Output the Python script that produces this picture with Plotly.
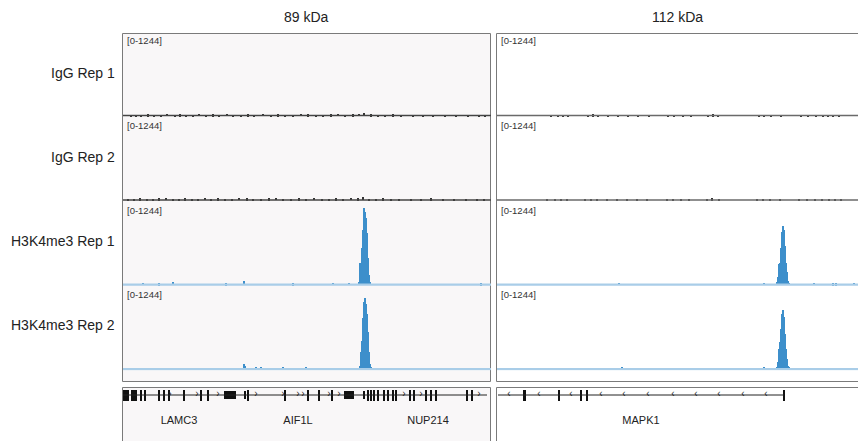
import plotly.graph_objects as go

W, H = 858, 441

# ---------------- data ----------------
column_titles = ["89 kDa", "112 kDa"]
track_names = ["IgG Rep 1", "IgG Rep 2", "H3K4me3 Rep 1", "H3K4me3 Rep 2"]
scale_label = "[0-1244]"
y_max = 1244
region_len = [368, 361]   # bins shown per region

# IgG Rep 1
igg1_left_bins = [8, 13, 18, 25, 31, 38, 44, 52, 57, 63, 70, 76, 83, 90, 96, 104, 110, 118, 125, 131, 140, 148,
                  155, 162, 170, 178, 185, 193, 200, 208, 215, 222, 230, 236, 241, 248, 255, 262, 270, 278, 290,
                  300, 310, 322, 333, 345, 356, 362]
igg1_left_vals = [15, 20, 15, 25, 20, 15, 30, 20, 25, 15, 20, 30, 15, 25, 20, 30, 15, 20, 25, 15, 30, 20,
                  25, 15, 20, 30, 25, 15, 20, 25, 30, 20, 25, 30, 50, 25, 20, 15, 25, 20, 15,
                  20, 15, 20, 15, 20, 15, 20]
igg1_right_bins = [54, 61, 66, 71, 91, 96, 101, 111, 121, 131, 141, 152, 171, 177, 186, 194, 211, 216, 221,
                   262, 267, 274, 284, 304, 311, 319, 326, 331, 336, 342]
igg1_right_vals = [15, 20, 15, 15, 20, 25, 15, 15, 20, 15, 15, 20, 15, 20, 15, 15, 20, 25, 15,
                   15, 20, 15, 15, 15, 20, 15, 15, 20, 15, 15]
# IgG Rep 2
igg2_left_bins = [5, 11, 17, 24, 30, 36, 43, 50, 56, 62, 69, 75, 82, 88, 95, 102, 109, 116, 124, 130, 138, 146,
                  153, 160, 168, 176, 183, 191, 199, 206, 213, 220, 228, 235, 240, 246, 253, 260, 268, 276, 288,
                  298, 308, 320, 331, 343, 354, 361]
igg2_left_vals = [20, 15, 25, 20, 15, 25, 30, 20, 15, 25, 20, 15, 30, 20, 25, 15, 20, 30, 25, 20, 15, 25,
                  30, 20, 15, 25, 20, 30, 15, 20, 25, 15, 30, 25, 40, 20, 15, 25, 20, 15, 20,
                  15, 25, 15, 20, 15, 20, 15]
igg2_right_bins = [50, 58, 64, 70, 88, 94, 100, 110, 120, 130, 140, 150, 170, 176, 184, 192, 210, 215, 222,
                   260, 266, 273, 283, 302, 310, 318, 325, 332, 338, 344]
igg2_right_vals = [15, 15, 20, 15, 15, 20, 15, 20, 15, 15, 20, 15, 15, 20, 15, 20, 15, 25, 15,
                   15, 20, 15, 20, 15, 15, 20, 15, 15, 20, 15]
# H3K4me3 Rep 1
k4me3_1_left_bins = [20, 36, 50, 103, 121, 170, 210, 226,
                     236, 237, 238, 239, 240, 241, 242, 243, 244, 245, 246, 247, 358]
k4me3_1_left_vals = [30, 25, 40, 25, 60, 25, 30, 30,
                     40, 330, 330, 560, 830, 1147, 1100, 1005, 780, 405, 150, 50, 25]
k4me3_1_right_bins = [122, 267, 280, 281, 282, 283, 284, 285, 286, 287, 288, 289, 290, 291, 292,
                      317, 336, 339, 357]
k4me3_1_right_vals = [30, 30, 40, 120, 315, 330, 555, 800, 890, 820, 585, 330, 200, 60, 30,
                      30, 25, 25, 30]
# H3K4me3 Rep 2
k4me3_2_left_bins = [121, 122, 133, 138, 160, 183,
                     237, 238, 239, 240, 241, 242, 243, 244, 245, 246, 247, 248, 300]
k4me3_2_left_vals = [70, 50, 30, 25, 25, 25,
                     40, 260, 420, 760, 1000, 1065, 980, 820, 560, 250, 80, 30, 20]
k4me3_2_right_bins = [125, 267, 280, 281, 282, 283, 284, 285, 286, 287, 288, 289, 290, 291, 292, 330]
k4me3_2_right_vals = [25, 25, 30, 100, 300, 400, 600, 820, 885, 780, 520, 300, 150, 50, 25, 20]

signals = [
    [(igg1_left_bins, igg1_left_vals), (igg1_right_bins, igg1_right_vals)],
    [(igg2_left_bins, igg2_left_vals), (igg2_right_bins, igg2_right_vals)],
    [(k4me3_1_left_bins, k4me3_1_left_vals), (k4me3_1_right_bins, k4me3_1_right_vals)],
    [(k4me3_2_left_bins, k4me3_2_left_vals), (k4me3_2_right_bins, k4me3_2_right_vals)],
]

# gene annotation (bin coordinates)
gene_names = ["LAMC3", "AIF1L", "NUP214", "MAPK1"]
gene_label_bins = [56, 175, 305, 144]
gene_label_region = [0, 0, 0, 1]
gene_line_left = [0, 364]
gene_line_right = [1, 287]
exons_left_start = [0.7, 2.2, 3.7, 5.2, 8.7, 10.7, 12.7, 17.7, 21.7, 35.7, 40.7, 45.7, 60.7, 77.7, 84.7, 101,
                    121.5, 124.2, 161.7, 184.7, 195.7, 208.7, 221,
                    240.5, 244.7, 247.7, 250.7, 254.7, 260.7, 264.7, 269.7, 272.7, 286.7, 290.7,
                    302.7, 307.7, 312.7, 343, 347.5]
exons_left_end = [1.5, 3, 4.5, 6, 9.5, 11.5, 13.5, 18.5, 22.5, 36.5, 41.5, 46.5, 61.5, 78.5, 85.5, 113,
                  122.5, 125.3, 162.5, 185.5, 196.5, 209.5, 231,
                  241.5, 245.5, 248.5, 251.5, 255.5, 261.5, 265.5, 270.5, 273.5, 287.5, 291.5,
                  303.5, 308.5, 313.5, 345, 350]
exons_left_tall = [1, 1, 1, 1, 1, 1, 1, 1, 1, 1, 1, 1, 1, 1, 1, 0,
                   0, 1, 1, 1, 1, 1, 0,
                   0, 1, 1, 1, 1, 1, 1, 1, 1, 1, 1,
                   1, 1, 1, 1, 1]
exons_right_start = [26, 61.6, 83.6, 89.6, 286.6]
exons_right_end = [28.5, 62.6, 84.6, 90.6, 287.6]
exons_right_tall = [1, 1, 1, 1, 1]
arrows_left = [47, 74, 95, 133, 160, 175, 180, 206, 216, 281, 298, 356]
arrows_right = [12, 42, 74, 104, 127, 151, 176, 199, 222, 246, 269]

# ---------------- layout geometry ----------------
col_x = [(122, 490), (496, 858)]
baselines = [115.5, 200, 284.5, 369]
track_h = 83
FONT = "Liberation Sans, Arial, sans-serif"

def px(x):
    return min(1.0, max(0.0, x / W))

def py(y):
    return min(1.0, max(0.0, 1 - y / H))

fig = go.Figure()
layout = dict(
    width=W, height=H, margin=dict(l=0, r=0, t=0, b=0),
    paper_bgcolor="white", plot_bgcolor="rgba(0,0,0,0)",
    showlegend=False, barmode="overlay", bargap=0,
)

for c in range(2):
    xname = "xaxis" if c == 0 else "xaxis2"
    layout[xname] = dict(domain=[px(col_x[c][0] + 1), px(col_x[c][0] + 1 + region_len[c])],
                         range=[0, region_len[c]], visible=False, fixedrange=True)

blue = "#3d8fcb"
blue_base = "#a9cde8"
dark = "#333333"

yi = 0
for t in range(4):
    for c in range(2):
        yi += 1
        yname = "yaxis" if yi == 1 else f"yaxis{yi}"
        yref = "y" if yi == 1 else f"y{yi}"
        xref = "x" if c == 0 else "x2"
        b = baselines[t]
        layout[yname] = dict(domain=[py(b + 1.5), py(b - track_h)], range=[-22, y_max],
                             anchor=xref, visible=False, fixedrange=True)
        bins, vals = signals[t][c]
        is_igg = t < 2
        fig.add_trace(go.Scatter(x=[0, region_len[c]], y=[0, 0], mode="lines",
                                 line=dict(color=("#444444" if c == 0 else "#6a6a6a") if is_igg else blue_base,
                                           width=1.4 if is_igg else 2.2),
                                 xaxis=xref, yaxis=yref, hoverinfo="skip"))
        fig.add_trace(go.Bar(x=bins, y=vals, width=1.05,
                             marker=dict(color=dark if is_igg else blue, line=dict(width=0)),
                             xaxis=xref, yaxis=yref, hoverinfo="skip"))

# gene tracks
for c in range(2):
    yi += 1
    yname = f"yaxis{yi}"
    yref = f"y{yi}"
    xref = "x" if c == 0 else "x2"
    layout[yname] = dict(domain=[0, py(387)], range=[-46, 8], anchor=xref, visible=False, fixedrange=True)
    line = gene_line_left if c == 0 else gene_line_right
    starts = exons_left_start if c == 0 else exons_right_start
    ends = exons_left_end if c == 0 else exons_right_end
    tall = exons_left_tall if c == 0 else exons_right_tall
    arrows = arrows_left if c == 0 else arrows_right
    fig.add_trace(go.Scatter(x=line, y=[0, 0], mode="lines", line=dict(color="#222222", width=1),
                             xaxis=xref, yaxis=yref, hoverinfo="skip"))
    halves = [5.5 if tl else 3.8 for tl in tall]
    fig.add_trace(go.Bar(x=[(s + e) / 2 for s, e in zip(starts, ends)],
                         width=[e - s for s, e in zip(starts, ends)],
                         y=[2 * h for h in halves], base=[-h for h in halves],
                         marker=dict(color="#111111", line=dict(width=0)),
                         xaxis=xref, yaxis=yref, hoverinfo="skip"))
    fig.add_trace(go.Scatter(x=arrows, y=[0.9] * len(arrows), mode="text",
                             text=["›" if c == 0 else "‹"] * len(arrows),
                             textfont=dict(size=10, color="#222222", family=FONT),
                             xaxis=xref, yaxis=yref, hoverinfo="skip"))
    names = [n for n, r in zip(gene_names, gene_label_region) if r == c]
    pos = [p for p, r in zip(gene_label_bins, gene_label_region) if r == c]
    fig.add_trace(go.Scatter(x=pos, y=[-26] * len(pos), mode="text", text=names,
                             textfont=dict(size=11, color="#222222", family=FONT),
                             xaxis=xref, yaxis=yref, hoverinfo="skip"))

# boxes / backgrounds
shapes = []
bg = ["#f9f7f8", "#ffffff"]
for c in range(2):
    x0, x1 = col_x[c]
    for (y0, y1) in [(33, 381), (387, 460)]:
        sx1 = (x1 + 0.5) / W if c == 0 else 1.02
        sy0 = 1 - (y1 + 0.5) / H
        shapes.append(dict(type="rect", xref="paper", yref="paper", layer="below",
                           x0=(x0 + 0.5) / W, x1=sx1, y0=sy0, y1=1 - (y0 + 0.5) / H,
                           fillcolor=bg[c], line=dict(color="#7a7a7a", width=1)))
layout["shapes"] = shapes

ann = []
title_x = [306, 677]
for c in range(2):
    ann.append(dict(text=column_titles[c], x=px(title_x[c]), y=py(17), xref="paper", yref="paper",
                    showarrow=False, font=dict(size=14, color="#222222", family=FONT),
                    xanchor="center", yanchor="middle"))
label_y = [73, 157, 241, 325]
for t in range(4):
    ann.append(dict(text=track_names[t], x=px(117), y=py(label_y[t]), xref="paper", yref="paper",
                    showarrow=False, font=dict(size=14, color="#222222", family=FONT),
                    xanchor="right", yanchor="middle"))
    for c in range(2):
        ann.append(dict(text=scale_label, x=px(col_x[c][0] + 2.5), y=py(baselines[t] - track_h + 8.5),
                        xref="paper", yref="paper", showarrow=False,
                        font=dict(size=9.5, color="#333333", family=FONT),
                        xanchor="left", yanchor="middle"))
layout["annotations"] = ann

fig.update_layout(**layout)
fig.write_html("out.html", config={"displayModeBar": False},
               post_script="document.body.style.margin='0';document.body.style.padding='0';")
